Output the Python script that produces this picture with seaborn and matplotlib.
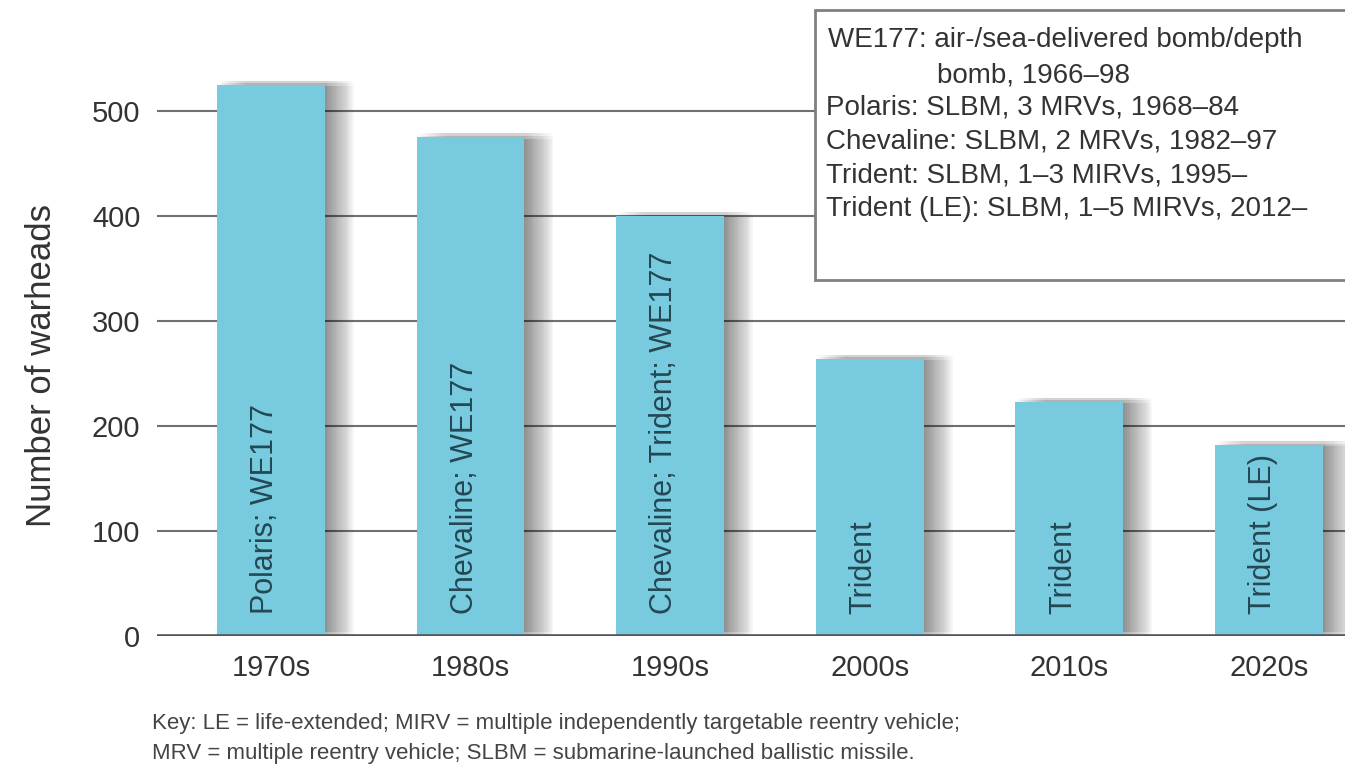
import matplotlib
matplotlib.use("Agg")
import matplotlib.pyplot as plt
import matplotlib.patheffects as pe
from matplotlib.patches import Rectangle
import seaborn as sns
import pandas as pd

# ---- data ----
decades = ["1970s", "1980s", "1990s", "2000s", "2010s", "2020s"]
warheads = [525, 475, 400, 264, 223, 182]
systems = ["Polaris; WE177", "Chevaline; WE177", "Chevaline; Trident; WE177",
           "Trident", "Trident", "Trident (LE)"]
y_ticks = [0, 100, 200, 300, 400, 500]
legend_lines = [
    "WE177: air-/sea-delivered bomb/depth",
    "bomb, 1966\u201398",
    "Polaris: SLBM, 3 MRVs, 1968\u201384",
    "Chevaline: SLBM, 2 MRVs, 1982\u201397",
    "Trident: SLBM, 1\u20133 MIRVs, 1995\u2013",
    "Trident (LE): SLBM, 1\u20135 MIRVs, 2012\u2013",
]
key_lines = [
    "Key: LE = life-extended; MIRV = multiple independently targetable reentry vehicle;",
    "MRV = multiple reentry vehicle; SLBM = submarine-launched ballistic missile.",
]

df = pd.DataFrame({"decade": decades, "warheads": warheads})

sns.set_style("white")
plt.rcParams["font.family"] = ["Liberation Sans", "DejaVu Sans"]

W, H = 1345, 774
fig = plt.figure(figsize=(W / 100, H / 100), dpi=100)
ax = fig.add_axes([157 / W, (H - 636) / H, (W - 157) / W, 630 / H])

BAR = "#78cbdf"
sns.barplot(data=df, x="decade", y="warheads", color=BAR, width=0.54,
            saturation=1, ax=ax, zorder=3)

# soft drop shadow to the right
shadow = []
for k in range(1, 17):
    for dy in (-1.0, 1.0, 3.0):
        shadow.append(pe.SimplePatchShadow(offset=(k * 1.3, dy),
                                           shadow_rgbFace="#303030",
                                           alpha=0.011))
for p in ax.patches:
    p.set_edgecolor("none")
    p.set_path_effects(shadow + [pe.Normal()])

ax.set_ylim(0, 600)
ax.set_xlim(-0.571, 5.381)
ax.set_yticks(y_ticks)
ax.yaxis.grid(True, color="#707070", linewidth=1.5, zorder=1)
ax.set_axisbelow(True)
for s in ["top", "right", "left", "bottom"]:
    ax.spines[s].set_visible(False)
ax.axhline(0, color="#555555", linewidth=2.6, zorder=4)
ax.tick_params(axis="both", length=0, labelsize=21, colors="#333333")
ax.tick_params(axis="y", pad=12)
ax.tick_params(axis="x", pad=13)
ax.set_xlabel("")
ax.set_ylabel("Number of warheads", fontsize=25, color="#333333")
ax.yaxis.set_label_coords(-0.083, 0.43)

for i, lab in enumerate(systems):
    ax.text(i - 0.03, 21, lab, rotation=90, ha="center", va="bottom",
            fontsize=22, color="#244753", zorder=5)

# legend box
box = Rectangle((815 / W, (H - 280) / H), 0.5, 270 / H, transform=fig.transFigure,
                facecolor="white", edgecolor="#808080", linewidth=2, zorder=10,
                clip_on=False)
ax.add_patch(box)
ys = [40, 76, 108, 142, 176, 209]
xs = [828, 937, 826, 826, 826, 826]
for t, xx, yy in zip(legend_lines, xs, ys):
    fig.text(xx / W, (H - yy) / H, t, fontsize=20, color="#333333",
             ha="left", va="center", zorder=11)

fig.text(152 / W, (H - 723) / H, key_lines[0], fontsize=16, color="#444444",
         ha="left", va="center")
fig.text(152 / W, (H - 753) / H, key_lines[1], fontsize=16, color="#444444",
         ha="left", va="center")

fig.savefig("out.png", dpi=100, facecolor="white")
